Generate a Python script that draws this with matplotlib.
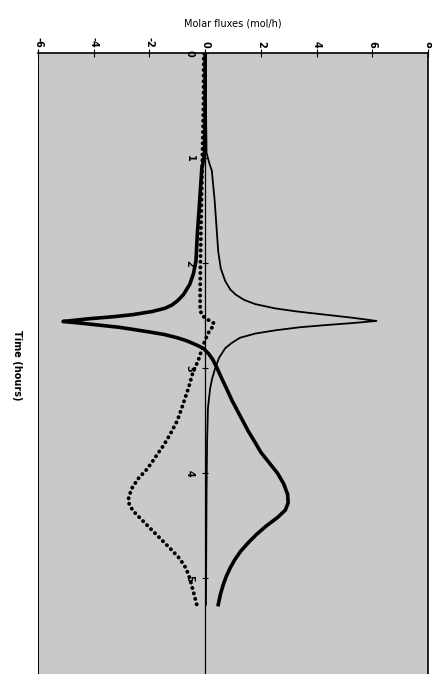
import numpy as np
import matplotlib
matplotlib.use("Agg")
import matplotlib.pyplot as plt

# thick solid curve
t_thick = [0, 0.5, 0.95, 1.05, 1.1, 1.3, 1.5, 1.72, 1.98, 2.1, 2.2, 2.3, 2.36, 2.4, 2.43,
           2.46, 2.49, 2.51, 2.53, 2.555, 2.57, 2.59, 2.61, 2.63, 2.655, 2.68, 2.71, 2.74,
           2.78, 2.81, 2.86, 2.92, 3.0, 3.1, 3.2, 3.31, 3.4, 3.5, 3.6, 3.7, 3.8, 3.9,
           4.0, 4.1, 4.2, 4.28, 4.35, 4.42, 4.5, 4.58, 4.66, 4.74, 4.82, 4.9, 4.98,
           5.06, 5.15, 5.25]
v_thick = [0, 0, -0.02, -0.08, -0.12, -0.17, -0.22, -0.28, -0.33, -0.42, -0.55, -0.78,
           -1.0, -1.2, -1.45, -1.9, -2.6, -3.3, -4.2, -5.1, -4.5, -3.8, -3.1, -2.6, -2.0,
           -1.45, -1.0, -0.65, -0.3, -0.07, 0.12, 0.28, 0.43, 0.6, 0.78, 0.97, 1.15,
           1.35, 1.55, 1.78, 2.0, 2.3, 2.6, 2.82, 2.96, 2.98, 2.88, 2.6, 2.2, 1.85, 1.55,
           1.28, 1.07, 0.9, 0.76, 0.65, 0.55, 0.47]

# thin solid curve
t_thin = [0, 0.5, 0.95, 1.05, 1.12, 1.4, 1.7, 1.89, 2.05, 2.17, 2.25, 2.3, 2.35, 2.39,
          2.43, 2.46, 2.49, 2.52, 2.55, 2.57, 2.59, 2.61, 2.64, 2.67, 2.71, 2.76, 2.81,
          2.9, 3.0, 3.1, 3.19, 3.38, 3.7, 4.2, 4.7, 5.25]
v_thin = [0.03, 0.03, 0.05, 0.15, 0.24, 0.34, 0.42, 0.47, 0.56, 0.72, 0.9, 1.1, 1.4, 1.8,
          2.5, 3.3, 4.3, 5.3, 6.15, 5.3, 4.3, 3.4, 2.5, 1.8, 1.25, 0.95, 0.72, 0.5, 0.36,
          0.25, 0.18, 0.1, 0.07, 0.05, 0.04, 0.03]

# dotted curve
t_dot = [0, 0.5, 1.0, 1.5, 2.0, 2.3, 2.45, 2.5, 2.53, 2.57, 2.6, 2.63, 2.69, 2.78, 2.93,
         3.03, 3.19, 3.34, 3.5, 3.63, 3.73, 3.82, 3.9, 3.97, 4.05, 4.15, 4.25, 4.3,
         4.36, 4.42, 4.49, 4.57, 4.65, 4.73, 4.81, 4.89, 4.96, 5.03, 5.1, 5.18, 5.25]
v_dot = [-0.05, -0.06, -0.1, -0.14, -0.17, -0.18, -0.18, -0.1, 0.05, 0.3, 0.3, 0.18, 0.07,
         -0.07, -0.25, -0.43, -0.6, -0.79, -1.0, -1.26, -1.48, -1.72, -1.92, -2.12,
         -2.4, -2.65, -2.76, -2.72, -2.58, -2.36, -2.1, -1.8, -1.5, -1.2, -0.92, -0.72,
         -0.6, -0.52, -0.45, -0.37, -0.3]

flux_ticks = [-6, -4, -2, 0, 2, 4, 6, 8]
time_ticks = [0, 1, 2, 3, 4, 5]

fig = plt.figure(figsize=(4.32, 6.74), dpi=100)
ax = fig.add_axes([38 / 432, 0, 390 / 432, 621 / 674])
ax.set_facecolor('#c9c9c9')

ax.plot(v_thin, t_thin, color='k', lw=1.3, zorder=3, solid_joinstyle='round')
ax.plot(v_thick, t_thick, color='k', lw=2.6, zorder=4, solid_joinstyle='round')
ax.plot(v_dot, t_dot, color='k', lw=2.8, linestyle=(0, (0.05, 1.4)),
        dash_capstyle='round', zorder=4)

ax.set_xlim(-6, 8)
ax.set_ylim(5.91, 0)

# flux axis on top
ax.xaxis.tick_top()
ax.xaxis.set_label_position('top')
ax.set_xticks(flux_ticks)
ax.set_xticklabels([str(v) for v in flux_ticks], rotation=-90, fontsize=7,
                   fontweight='bold')
ax.tick_params(axis='x', direction='inout', length=6, width=0.8, pad=1)
ax.set_xlabel('Molar fluxes (mol/h)', fontsize=7, labelpad=7)

# time axis drawn along flux = 0
ax.spines['left'].set_position(('data', 0))
ax.spines['left'].set_linewidth(0.9)
ax.spines['bottom'].set_visible(False)
ax.spines['top'].set_linewidth(1.2)
ax.spines['right'].set_linewidth(1.2)
ax.axvline(-6, color='k', lw=1.4)
ax.set_yticks(time_ticks)
ax.set_yticklabels([str(v) for v in time_ticks], rotation=-90, fontsize=7,
                   fontweight='bold', va='center')
ax.tick_params(axis='y', direction='inout', length=5, width=0.8, pad=5)

fig.text(17 / 432, 1 - 365 / 674, 'Time (hours)', rotation=-90, fontsize=7,
         fontweight='bold', ha='center', va='center')

fig.savefig('out.png', dpi=100)
